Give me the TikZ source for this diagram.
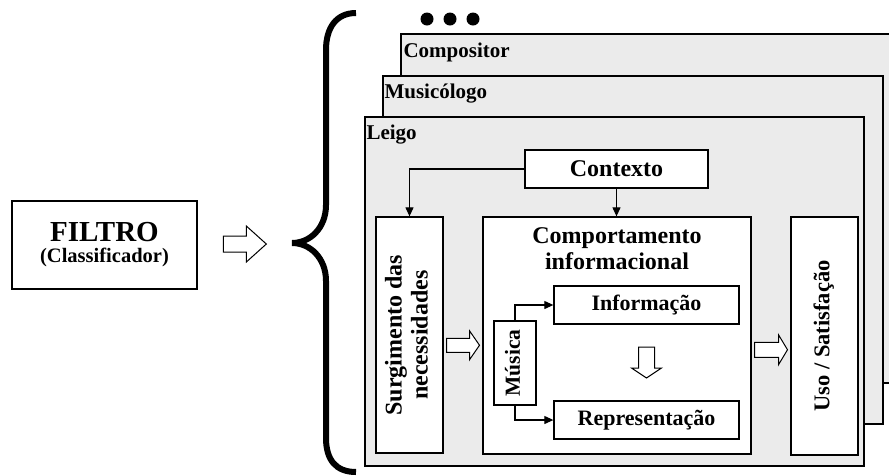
\documentclass[tikz,border=0pt]{standalone}
\usepackage{fontspec}
\setmainfont{Liberation Serif}
\usepackage{graphicx}
\usetikzlibrary{arrows.meta,calc}

\tikzset{
  box/.style={draw,fill=white,line width=1.3pt,inner sep=0pt,
    font=\bfseries\fontsize{22}{24}\selectfont},
  panel/.style={draw,fill=black!8,line width=1.3pt,inner sep=0pt},
  paneltitle/.style={anchor=base west,inner sep=0pt,
    font=\bfseries\fontsize{21}{24}\selectfont},
  link/.style={line width=1.1pt,-{Triangle[length=9pt,width=8pt]}},
  pics/hollow/.style n args={4}{code={
    \draw[line width=1pt,fill=white] (-#1,-#3) -- (#1-#2,-#3) -- (#1-#2,-#4)
      -- (#1,0) -- (#1-#2,#4) -- (#1-#2,#3) -- (-#1,#3) -- cycle;}}
}

\newcommand{\vtext}[1]{\rotatebox{90}{\begin{tabular}{@{}c@{}}#1\end{tabular}}}

\begin{document}
\begin{tikzpicture}[x=1pt,y=-1pt]
\useasboundingbox (0,0) rectangle (889,475);

% filtro
\node[box,minimum width=185pt,minimum height=88pt,align=center] (filtro) at (104.5,245)
  {\fontsize{29}{30}\selectfont FILTRO\\[-3pt]\fontsize{20.5}{21}\selectfont (Classificador)};

% chave
\coordinate (bracetip) at (292,243);
\draw[line width=6pt] (356,13) .. controls (336,13) and (326,28) .. (326,50) -- (326,205)
  .. controls (326,228) and (310,243) .. (bracetip)
  .. controls (310,243) and (326,258) .. (326,281) -- (326,438)
  .. controls (326,460) and (336,472) .. (356,472);
\pic at ($(filtro.east)!.5!(bracetip)$) {hollow={21.5}{20}{8}{18}};

% perfis
\foreach \x in {427,450,473}
  \fill (\x,19) circle (6.5pt);
\node[panel,minimum width=494pt,minimum height=349pt] (compositor) at (648,208.5) {};
\node[paneltitle] at ([xshift=3pt,yshift=-24pt]compositor.north west) {Compositor};
\node[panel,minimum width=500pt,minimum height=348pt] (musicologo) at (633,250) {};
\node[paneltitle] at ([xshift=2pt,yshift=-23pt]musicologo.north west) {Musicólogo};
\node[panel,minimum width=499pt,minimum height=349pt] (leigo) at (614.5,291.5) {};
\node[paneltitle] at ([xshift=2pt,yshift=-23pt]leigo.north west) {Leigo};

% modelo
\node[box,minimum width=183pt,minimum height=38pt,
  font=\bfseries\fontsize{24}{26}\selectfont] (contexto) at (616.5,169) {Contexto};
\node[box,minimum width=67pt,minimum height=236pt,
  font=\bfseries\fontsize{24}{26}\selectfont] (surg) at (409.5,335)
  {\vtext{Surgimento das\\necessidades}};
\node[box,minimum width=268pt,minimum height=237pt] (comp) at (617,335.5) {};
\node[anchor=north,inner sep=0pt,align=center,
  font=\bfseries\fontsize{24}{26}\selectfont] (comptitle) at ([yshift=-11pt]comp.north)
  {Comportamento\\informacional};
\node[box,minimum width=67pt,minimum height=238pt,
  font=\bfseries\fontsize{22.5}{24}\selectfont] (uso) at (824.5,336) {\vtext{Uso / Satisfação}};
\node[box,minimum width=185pt,minimum height=38pt] (info) at (646.5,305) {Informação};
\node[box,minimum width=185pt,minimum height=38pt] (repr) at (646.5,420) {Representação};
\node[box,minimum width=42pt,minimum height=84pt,
  font=\bfseries\fontsize{21.5}{24}\selectfont] (musica) at (515,363) {\vtext{Música}};

\draw[link] (contexto.west) -| (surg.north);
\draw[link] (contexto.south) -- (contexto.south |- comp.north);
\draw[link] (musica.north) |- (info.west);
\draw[link] (musica.south) |- (repr.west);

\pic at ($(surg.east)!.5!(comp.west)+(0,10)$) {hollow={16.5}{10}{7}{14.5}};
\pic at ($(comp.east)!.5!(uso.west)+(0,14)$) {hollow={16.5}{9}{7.5}{15}};
\pic[rotate=-90] at ($(info.south)!.5!(repr.north)$) {hollow={15.5}{10}{8}{15}};
\end{tikzpicture}
\end{document}
